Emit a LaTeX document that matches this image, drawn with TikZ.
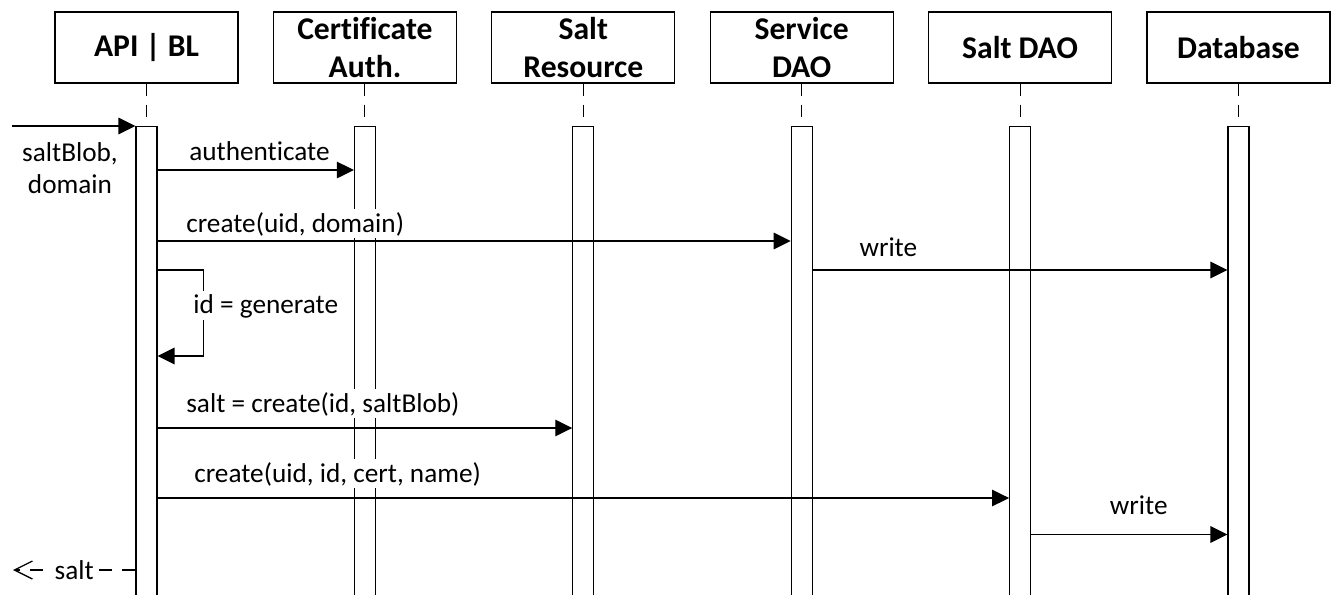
\documentclass[tikz,border=0pt]{standalone}
\usepackage{fontspec}
\setmainfont{Carlito}[Ligatures=NoCommon]
\usetikzlibrary{arrows.meta,positioning}

\tikzset{
  actor/.style={draw, line width=0.6pt, minimum width=3.66cm, minimum height=1.42cm,
    inner sep=0pt, align=center, font=\fontsize{18}{21.6}\selectfont\bfseries},
  actbar/.style={draw, line width=0.6pt, minimum width=0.42cm, minimum height=9.6cm,
    inner sep=0pt, anchor=north},
  life/.style={line width=0.6pt, dash pattern=on 0.24cm off 0.18cm},
  msg/.style={line width=0.75pt, -{Triangle[length=0.34cm,width=0.33cm]}},
  ret/.style={line width=0.75pt, dash pattern=on 0.26cm off 0.2cm,
    -{Straight Barb[length=0.36cm,width=0.36cm]}},
  lbl/.style={fill=white, inner sep=1.5pt, font=\fontsize{15.5}{18.6}\selectfont},
  mlbl/.style={lbl, pos=0, anchor=base west},
}

\begin{document}
\begin{tikzpicture}
  \path[use as bounding box, clip] (0,0) rectangle (26.66,-11.88);

  % lifelines
  \foreach \nm/\txt [count=\i from 0] in {api/{API | BL}, ca/{Certificate\\Auth.},
      res/{Salt\\Resource}, svc/{Service\\DAO}, sdao/{Salt DAO}, db/{Database}}{
    \node[actor] (\nm) at ({2.93+4.368*\i},-0.95) {\txt};
    \node[actbar] (\nm-bar) at ({2.93+4.368*\i},-2.52) {};
    \draw[life] (\nm) -- (\nm-bar);
  }

  % incoming call
  \coordinate (src) at (0.24,-2.52);
  \draw[msg] (src) -- (api-bar.north west);
  \node[lbl, inner sep=0pt, anchor=north, align=center] (args) at (1.4,-2.84) {saltBlob,\\domain};

  \draw[msg] (api-bar.east |- 0,-3.40) -- node[mlbl, xshift=0.57cm, yshift=0.2cm] {authenticate} (ca-bar.west |- 0,-3.40);
  \draw[msg] (api-bar.east |- 0,-4.82) -- node[mlbl, xshift=0.51cm, yshift=0.18cm] {create(uid, domain)} (svc-bar.west |- 0,-4.82);
  \draw[msg] (svc-bar.east |- 0,-5.40) -- node[mlbl, xshift=0.87cm, yshift=0.28cm] {write} (db-bar.west |- 0,-5.40);

  % self call
  \draw[msg] (api-bar.east |- 0,-5.40) -- ++(0.92,0) |- (api-bar.east |- 0,-7.12);
  \node[lbl, anchor=base west] (gen) at (3.81,-6.26) {id = generate};

  \draw[msg] (api-bar.east |- 0,-8.56) -- node[mlbl, xshift=0.51cm, yshift=0.32cm] {salt = create(id, saltBlob)} (res-bar.west |- 0,-8.56);
  \draw[msg] (api-bar.east |- 0,-9.96) -- node[mlbl, xshift=0.67cm, yshift=0.32cm] {create(uid, id, cert, name)} (sdao-bar.west |- 0,-9.96);
  \draw[msg] (sdao-bar.east |- 0,-10.69) -- node[mlbl, xshift=1.51cm, yshift=0.4cm] {write} (db-bar.west |- 0,-10.69);

  % return
  \coordinate (dst) at (0.26,-11.40);
  \draw[ret] (api-bar.west |- 0,-11.40) -- node[lbl, midway] (res-lbl) {salt} (dst);
\end{tikzpicture}
\end{document}
